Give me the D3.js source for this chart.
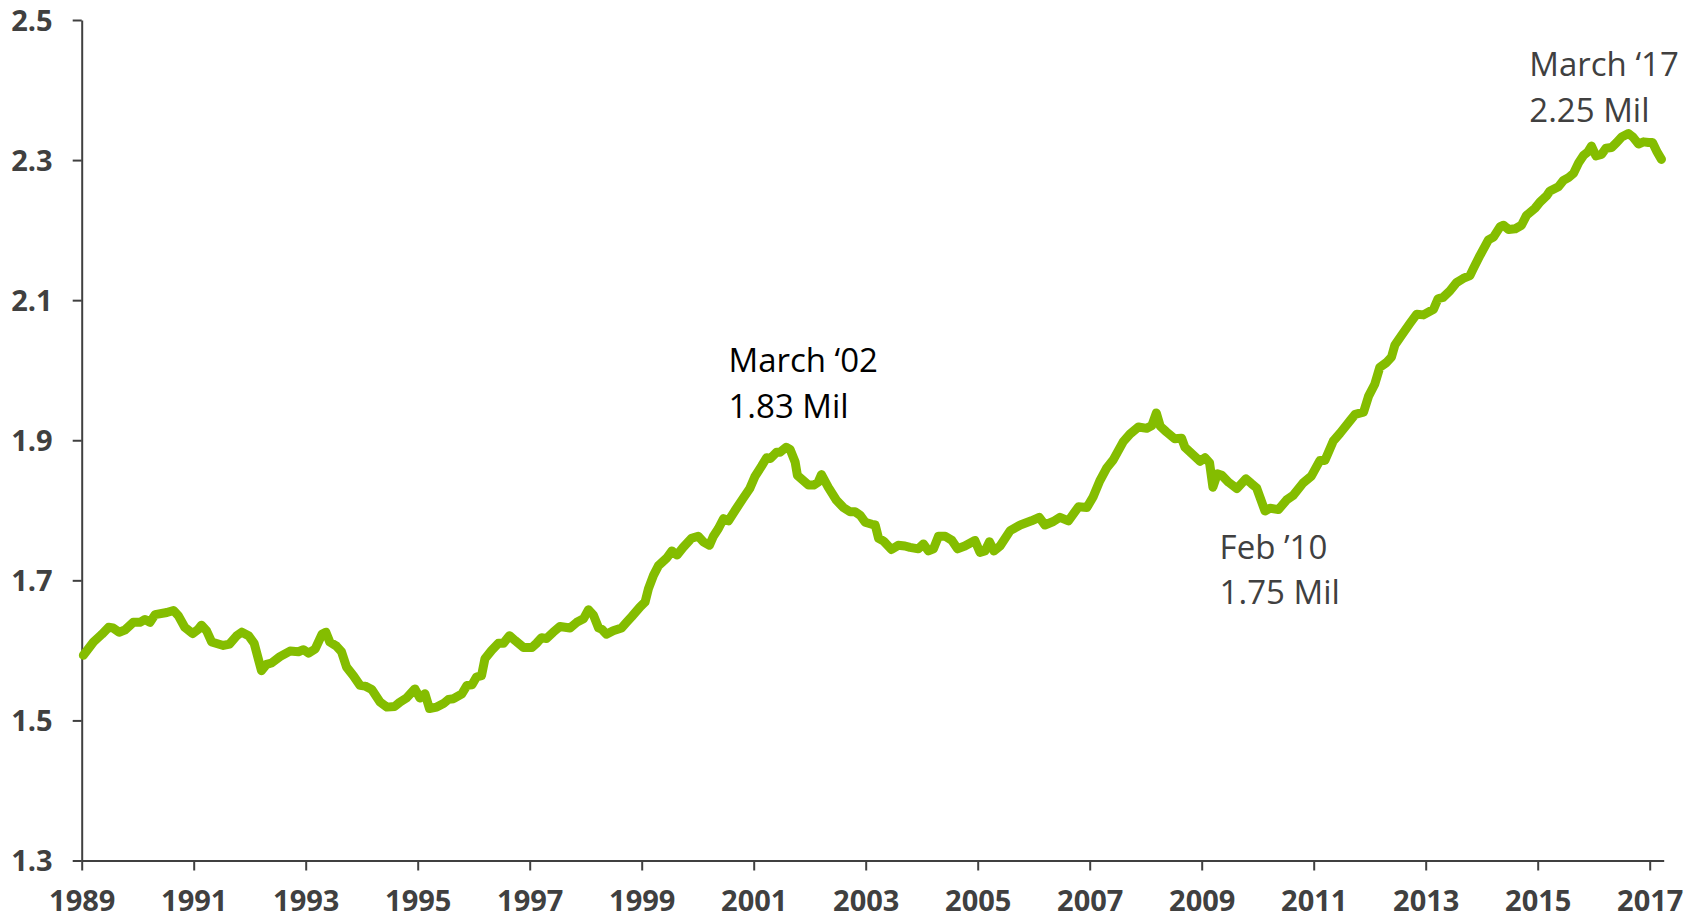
<!DOCTYPE html>
<html>
<head>
<meta charset="utf-8">
<script src="https://cdn.jsdelivr.net/npm/d3@7"></script>
<style>
  html, body { margin: 0; padding: 0; background: #ffffff; }
  svg { display: block; }
</style>
</head>
<body>
<svg id="chart" width="1706" height="917"></svg>
<script>
// ---- Data (decimal year, value in millions) ----
const years = [
  1989.03,1989.21,1989.36,1989.48,1989.56,1989.67,1989.77,1989.92,1990.04,1990.13,1990.22,1990.31,1990.52,1990.64,1990.73,1990.84,1990.98,
  1991.08,1991.14,1991.23,1991.32,1991.53,1991.64,1991.77,1991.86,1991.98,1992.08,1992.21,1992.30,1992.39,1992.54,1992.72,1992.87,1992.96,
  1993.05,1993.17,1993.29,1993.36,1993.43,1993.55,1993.64,1993.73,1993.85,1993.97,1994.06,1994.18,1994.33,1994.45,1994.59,1994.68,1994.80,1994.95,
  1995.04,1995.13,1995.21,1995.34,1995.46,1995.55,1995.64,1995.79,1995.88,1995.97,1996.05,1996.14,1996.20,1996.32,1996.44,1996.53,1996.64,1996.74,1996.89,
  1997.04,1997.12,1997.21,1997.30,1997.42,1997.54,1997.72,1997.84,1997.96,1998.05,1998.14,1998.23,1998.29,1998.37,1998.49,1998.64,1998.73,1998.82,1998.97,
  1999.06,1999.12,1999.21,1999.30,1999.45,1999.54,1999.63,1999.74,1999.89,2000.01,2000.10,2000.21,2000.28,2000.37,2000.46,2000.55,2000.67,2000.81,2000.93,
  2001.02,2001.14,2001.23,2001.30,2001.41,2001.47,2001.58,2001.65,2001.74,2001.78,2001.98,2002.07,2002.15,2002.21,2002.33,2002.48,2002.60,2002.72,2002.81,2002.90,2002.99,
  2003.11,2003.17,2003.23,2003.32,2003.46,2003.58,2003.70,2003.79,2003.94,2004.03,2004.12,2004.21,2004.30,2004.42,2004.54,2004.64,2004.77,2004.86,2004.95,
  2005.04,2005.13,2005.21,2005.29,2005.40,2005.58,2005.76,2005.96,2006.10,2006.20,2006.35,2006.47,2006.62,2006.80,2006.95,
  2007.06,2007.18,2007.30,2007.42,2007.60,2007.72,2007.87,2008.02,2008.11,2008.19,2008.26,2008.37,2008.52,2008.64,2008.70,2008.85,2008.97,
  2009.06,2009.14,2009.20,2009.28,2009.36,2009.48,2009.63,2009.79,2009.89,2009.98,2010.13,2010.22,2010.37,2010.52,2010.63,2010.81,2010.96,
  2011.11,2011.20,2011.35,2011.47,2011.65,2011.74,2011.89,2011.98,2012.09,2012.18,2012.30,2012.39,2012.45,2012.57,2012.72,2012.84,2012.96,
  2013.14,2013.22,2013.31,2013.43,2013.55,2013.67,2013.79,2013.85,2013.97,2014.12,2014.21,2014.33,2014.39,2014.48,2014.60,2014.71,2014.80,2014.95,
  2015.04,2015.16,2015.22,2015.37,2015.46,2015.55,2015.64,2015.73,2015.82,2015.90,2015.96,2016.04,2016.14,2016.22,2016.32,2016.41,2016.50,2016.62,2016.70,2016.80,2016.89,2016.98,
  2017.05,2017.13,2017.21
];
const values = [
  1.593,1.612,1.623,1.633,1.632,1.626,1.629,1.640,1.640,1.644,1.640,1.651,1.654,1.657,1.649,1.633,1.624,
  1.630,1.636,1.628,1.612,1.607,1.609,1.621,1.626,1.621,1.610,1.571,1.580,1.582,1.591,1.599,1.598,1.601,
  1.596,1.602,1.623,1.626,1.612,1.606,1.598,1.576,1.564,1.550,1.549,1.544,1.526,1.519,1.520,1.526,1.532,1.545,
  1.532,1.538,1.517,1.519,1.524,1.530,1.531,1.538,1.550,1.551,1.562,1.564,1.588,1.600,1.610,1.610,1.621,1.614,1.604,
  1.604,1.610,1.618,1.617,1.626,1.634,1.632,1.640,1.645,1.658,1.650,1.632,1.630,1.623,1.628,1.632,1.640,1.648,1.662,
  1.669,1.688,1.707,1.721,1.732,1.742,1.736,1.747,1.760,1.763,1.755,1.750,1.763,1.774,1.788,1.785,1.800,1.817,1.831,
  1.848,1.863,1.875,1.874,1.883,1.883,1.890,1.887,1.869,1.850,1.836,1.836,1.840,1.851,1.833,1.814,1.804,1.798,1.798,1.793,1.783,
  1.780,1.779,1.760,1.756,1.744,1.750,1.749,1.747,1.745,1.752,1.742,1.745,1.763,1.763,1.757,1.745,1.749,1.753,1.757,
  1.740,1.742,1.755,1.742,1.749,1.771,1.779,1.785,1.790,1.779,1.784,1.790,1.785,1.805,1.804,
  1.819,1.842,1.860,1.872,1.898,1.909,1.919,1.917,1.921,1.939,1.920,1.912,1.902,1.903,1.890,1.879,1.870,
  1.875,1.868,1.833,1.852,1.850,1.840,1.831,1.845,1.838,1.832,1.799,1.803,1.801,1.815,1.821,1.839,1.849,
  1.871,1.871,1.899,1.910,1.928,1.937,1.940,1.963,1.980,2.004,2.011,2.019,2.036,2.050,2.067,2.080,2.079,
  2.087,2.102,2.104,2.113,2.125,2.131,2.135,2.145,2.164,2.186,2.190,2.205,2.207,2.201,2.202,2.207,2.221,2.231,
  2.240,2.249,2.256,2.262,2.271,2.275,2.281,2.296,2.307,2.312,2.320,2.306,2.308,2.317,2.318,2.325,2.333,2.338,2.333,2.323,2.326,2.325,
  2.325,2.312,2.301
];
const yTicks = [1.3, 1.5, 1.7, 1.9, 2.1, 2.3, 2.5];
const xTicks = [1989, 1991, 1993, 1995, 1997, 1999, 2001, 2003, 2005, 2007, 2009, 2011, 2013, 2015, 2017];
const annotations = [
  { lines: ["March \u201802", "1.83 Mil"], year: 2000.55, value: 1.997, color: "#000000" },
  { lines: ["Feb \u201910", "1.75 Mil"], year: 2009.32, value: 1.731, color: "#404040" },
  { lines: ["March \u201817", "2.25 Mil"], year: 2014.85, value: 2.420, color: "#404040" }
];

// ---- Layout ----
const svg = d3.select("#chart");
const x = d3.scaleLinear().domain([1989, 2017.25]).range([81.7, 1663.7]);
const y = d3.scaleLinear().domain([1.3, 2.5]).range([860.5, 20]);
const axisColor = "#404040";
const font = "'Open Sans', 'DejaVu Sans', sans-serif";

// Y axis
const gy = svg.append("g")
  .attr("transform", `translate(${x(1989)},0)`)
  .call(d3.axisLeft(y).tickValues(yTicks).tickFormat(d3.format(".1f")).tickSize(9).tickSizeOuter(0).tickPadding(20));
gy.select(".domain").attr("stroke", axisColor).attr("stroke-width", 2);
gy.selectAll(".tick line").attr("stroke", axisColor).attr("stroke-width", 2);
gy.selectAll(".tick text")
  .attr("fill", axisColor)
  .style("font-family", font).style("font-weight", "700").style("font-size", "29px")
  .attr("dy", "0.36em");

// X axis
const gx = svg.append("g")
  .attr("transform", `translate(0,${y(1.3)})`)
  .call(d3.axisBottom(x).tickValues(xTicks).tickFormat(d3.format("d")).tickSize(10).tickSizeOuter(0));
gx.select(".domain").attr("stroke", axisColor).attr("stroke-width", 2);
gx.selectAll(".tick line").attr("stroke", axisColor).attr("stroke-width", 2);
gx.selectAll(".tick text")
  .attr("fill", axisColor)
  .attr("y", 50).attr("dy", "0")
  .style("font-family", font).style("font-weight", "700").style("font-size", "29px");

// Line
const pts = years.map((yr, i) => [yr, values[i]]);
const line = d3.line().x(d => x(d[0])).y(d => y(d[1]));
svg.append("path")
  .datum(pts)
  .attr("d", line)
  .attr("fill", "none")
  .attr("stroke", "#84bd00")
  .attr("stroke-width", 9)
  .attr("stroke-linejoin", "round")
  .attr("stroke-linecap", "round");

// Annotations
annotations.forEach(a => {
  const t = svg.append("text")
    .attr("x", x(a.year))
    .attr("y", y(a.value))
    .attr("fill", a.color)
    .style("font-family", font)
    .style("font-size", "33px");
  a.lines.forEach((l, i) => {
    t.append("tspan").attr("x", x(a.year)).attr("dy", i === 0 ? 0 : 45.6).text(l);
  });
});
</script>
</body>
</html>
